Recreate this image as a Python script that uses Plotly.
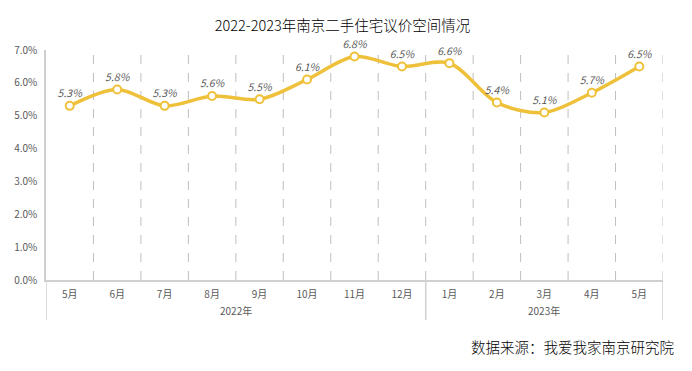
import plotly.graph_objects as go

years = ["2022年"] * 8 + ["2023年"] * 5
months = ["5月", "6月", "7月", "8月", "9月", "10月", "11月", "12月",
          "1月", "2月", "3月", "4月", "5月"]
values = [5.3, 5.8, 5.3, 5.6, 5.5, 6.1, 6.8, 6.5, 6.6, 5.4, 5.1, 5.7, 6.5]
labels = [f"{v:.1f}%" for v in values]

FONT = "Noto Sans CJK SC, Microsoft YaHei, sans-serif"
GOLD = "#EFC13A"
GRAY = "#595959"
LINEC = "#D0D0D0"

xs = list(range(len(months)))
n = len(months)

# page has an 8px body margin; figure sized/offset accordingly
W, H = 684, 363

fig = go.Figure()
fig.add_trace(go.Scatter(
    x=xs, y=values,
    mode="lines+markers+text",
    line=dict(color=GOLD, width=3.5, shape="spline", smoothing=0.9),
    marker=dict(size=8, color="white", line=dict(color=GOLD, width=2)),
    text=labels, textposition="top center",
    textfont=dict(family=FONT, size=10.5, color=GRAY, style="italic"),
    cliponaxis=False, hoverinfo="skip",
))

fig.update_layout(
    width=W, height=H,
    margin=dict(l=38, r=29, t=42, b=91, autoexpand=False),
    paper_bgcolor="white", plot_bgcolor="white",
    showlegend=False,
    title=dict(text="2022-2023年南京二手住宅议价空间情况", x=334.5 / W, xref="container",
               y=1 - 18 / H, yanchor="middle", xanchor="center",
               font=dict(family=FONT, size=14.5, color="#000000", weight=300)),
    font=dict(family=FONT, color=GRAY, size=10),
)

fig.update_xaxes(
    range=[-0.5, n - 0.5],
    tickmode="array", tickvals=xs, ticktext=months, ticks="",
    showgrid=False, zeroline=False,
    showline=True, linecolor=LINEC, linewidth=1.5,
    tickfont=dict(family=FONT, size=10, color=GRAY),
    ticklabelstandoff=4, automargin=False,
)
fig.update_yaxes(
    range=[0, 7], dtick=1, tickformat=".1f", ticksuffix="%",
    showgrid=False, zeroline=False,
    showline=True, linecolor=LINEC, linewidth=1.5,
    tickfont=dict(family=FONT, size=10, color=GRAY),
    ticklabelstandoff=5, automargin=False,
)

# dashed gridlines at category boundaries
for i in range(1, n + 1):
    fig.add_shape(type="line", xref="x", yref="y", x0=i - 0.5, x1=i - 0.5, y0=0, y1=7,
                  line=dict(color="#BFBFBF", width=1, dash="dash"), layer="below")

# year group dividers and labels
bottom = -(320 - 280) / 230
groups = []
for i, yv in enumerate(years):
    if not groups or groups[-1][0] != yv:
        groups.append([yv, i, i])
    else:
        groups[-1][2] = i
edges = sorted({g[1] - 0.5 for g in groups} | {g[2] + 0.5 for g in groups})
for e in edges:
    fig.add_shape(type="line", xref="x", yref="paper", x0=e, x1=e, y0=0, y1=bottom,
                  line=dict(color=LINEC, width=1.5))
for name, a, b in groups:
    fig.add_annotation(text=name, xref="x", yref="paper", x=(a + b) / 2,
                       y=(280 - 310) / 230, yanchor="middle", showarrow=False,
                       font=dict(family=FONT, size=10, color=GRAY))

fig.add_annotation(
    text="数据来源：我爱我家南京研究院", xref="paper", yref="paper",
    x=(676 - 46) / 617, y=(280 - 347) / 230, xanchor="right", yanchor="middle",
    showarrow=False, font=dict(family=FONT, size=14.5, color="#000000", weight=300),
)

fig.write_html("out.html")
